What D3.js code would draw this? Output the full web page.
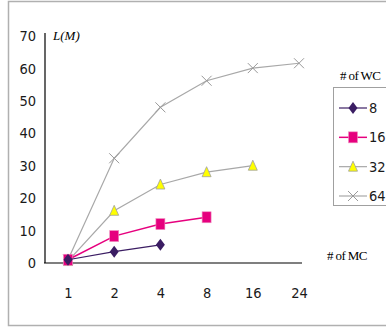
<!DOCTYPE html>
<html><head><meta charset="utf-8">
<script src="https://cdn.jsdelivr.net/npm/d3@7/dist/d3.min.js"></script>
<style>body{margin:0;background:#fff}svg{display:block}</style>
</head><body>
<script>
const categories = ["1","2","4","8","16","24"];
const yTicks = [0,10,20,30,40,50,60,70];
const seriesNames = ["8","16","32","64"];
const s8 = [1, 3.5, 5.6];
const s16 = [1, 8.3, 12.0, 14.1];
const s32 = [0.6, 16.1, 24.2, 28.0, 30.0];
const s64 = [1, 32.3, 48.0, 56.2, 60.1, 61.6];

const W = 386, H = 331;
const svg = d3.select("body").append("svg").attr("width", W).attr("height", H);

svg.append("rect").attr("x", 8.5).attr("y", 1.5).attr("width", 390).attr("height", 324)
  .attr("fill", "none").attr("stroke", "#b0b0b0").attr("stroke-width", 1.5);

const x = d3.scalePoint().domain(categories).range([68, 299]);
const y = d3.scaleLinear().domain([0, 70]).range([263, 36]);

const tickFont = "'Liberation Sans Narrow','DejaVu Sans Condensed',sans-serif";
const serif = "'Liberation Serif','DejaVu Serif',serif";

// y axis
const yAxis = d3.axisLeft(y).tickValues(yTicks).tickSize(0).tickPadding(9);
const gy = svg.append("g").attr("transform", "translate(45,0)").call(yAxis);
gy.select(".domain").remove();
gy.selectAll("text").attr("font-family", tickFont).attr("font-size", 14.5).attr("fill", "#1a1a1a");
svg.append("line").attr("x1", 45).attr("x2", 45).attr("y1", 33).attr("y2", y(0)).attr("stroke", "#000").attr("stroke-width", 1.2);

// x axis
const xAxis = d3.axisBottom(x).tickSize(0).tickPadding(25);
const gx = svg.append("g").attr("transform", `translate(0,${y(0)})`).call(xAxis);
gx.select(".domain").remove();
gx.selectAll("text").attr("font-family", tickFont).attr("font-size", 14.5).attr("fill", "#1a1a1a");
svg.append("line").attr("x1", 44).attr("x2", 302).attr("y1", y(0)).attr("y2", y(0)).attr("stroke", "#000").attr("stroke-width", 1.2);

svg.append("text").attr("x", 53).attr("y", 40).text("L(M)")
  .attr("font-family", serif).attr("font-style", "italic").attr("font-size", 13);
svg.append("text").attr("x", 327).attr("y", 260).text("# of MC")
  .attr("font-family", serif).attr("font-size", 13).attr("letter-spacing", -0.6);

const series = [
  {name: "8", data: s8, color: "#3b1d63", marker: "diamond"},
  {name: "16", data: s16, color: "#e6007e", marker: "square"},
  {name: "32", data: s32, color: "#a8a8a8", marker: "triangle"},
  {name: "64", data: s64, color: "#a8a8a8", marker: "x"}
];

function drawMarker(g, type, cx, cy, color) {
  if (type === "diamond") {
    g.append("path").attr("d", `M${cx},${cy-6}L${cx+4.5},${cy}L${cx},${cy+6}L${cx-4.5},${cy}Z`).attr("fill", color);
  } else if (type === "square") {
    g.append("rect").attr("x", cx-4.5).attr("y", cy-5.5).attr("width", 9).attr("height", 11).attr("fill", color).attr("stroke", "#f090c0").attr("stroke-width", 0.6);
  } else if (type === "triangle") {
    g.append("path").attr("d", `M${cx},${cy-5.5}L${cx+4.5},${cy+4.5}L${cx-4.5},${cy+4.5}Z`).attr("fill", "#ffff00").attr("stroke", "#a0a0a0").attr("stroke-width", 0.8);
  } else {
    g.append("path").attr("d", `M${cx-5},${cy-5}L${cx+5},${cy+5}M${cx+5},${cy-5}L${cx-5},${cy+5}`).attr("stroke", "#999").attr("stroke-width", 1).attr("fill", "none");
  }
}

const line = d3.line().x((d, i) => x(categories[i])).y(d => y(d));
[...series].reverse().forEach(s => {
  const g = svg.append("g");
  g.append("path").attr("d", line(s.data)).attr("fill", "none").attr("stroke", s.color).attr("stroke-width", s.marker === "square" ? 1.5 : 1.2);
  s.data.forEach((d, i) => drawMarker(g, s.marker, x(categories[i]), y(d), s.color));
});

// legend
svg.append("text").attr("x", 340).attr("y", 80).text("# of WC")
  .attr("font-family", serif).attr("font-size", 13).attr("letter-spacing", -0.6);
svg.append("rect").attr("x", 333.5).attr("y", 87.5).attr("width", 60).attr("height", 118)
  .attr("fill", "#fff").attr("stroke", "#a0a0a0").attr("stroke-width", 1);
const ly = d3.scalePoint().domain(seriesNames).range([108, 196]);
series.forEach(s => {
  const cy = ly(s.name);
  const g = svg.append("g");
  g.append("line").attr("x1", 339).attr("x2", 367).attr("y1", cy).attr("y2", cy).attr("stroke", s.color).attr("stroke-width", s.marker === "square" ? 1.5 : 1.2);
  drawMarker(g, s.marker, 353, cy, s.color);
  g.append("text").attr("x", 369).attr("y", cy + 5).text(s.name)
    .attr("font-family", tickFont).attr("font-size", 14.5).attr("fill", "#1a1a1a");
});
</script>
</body></html>
